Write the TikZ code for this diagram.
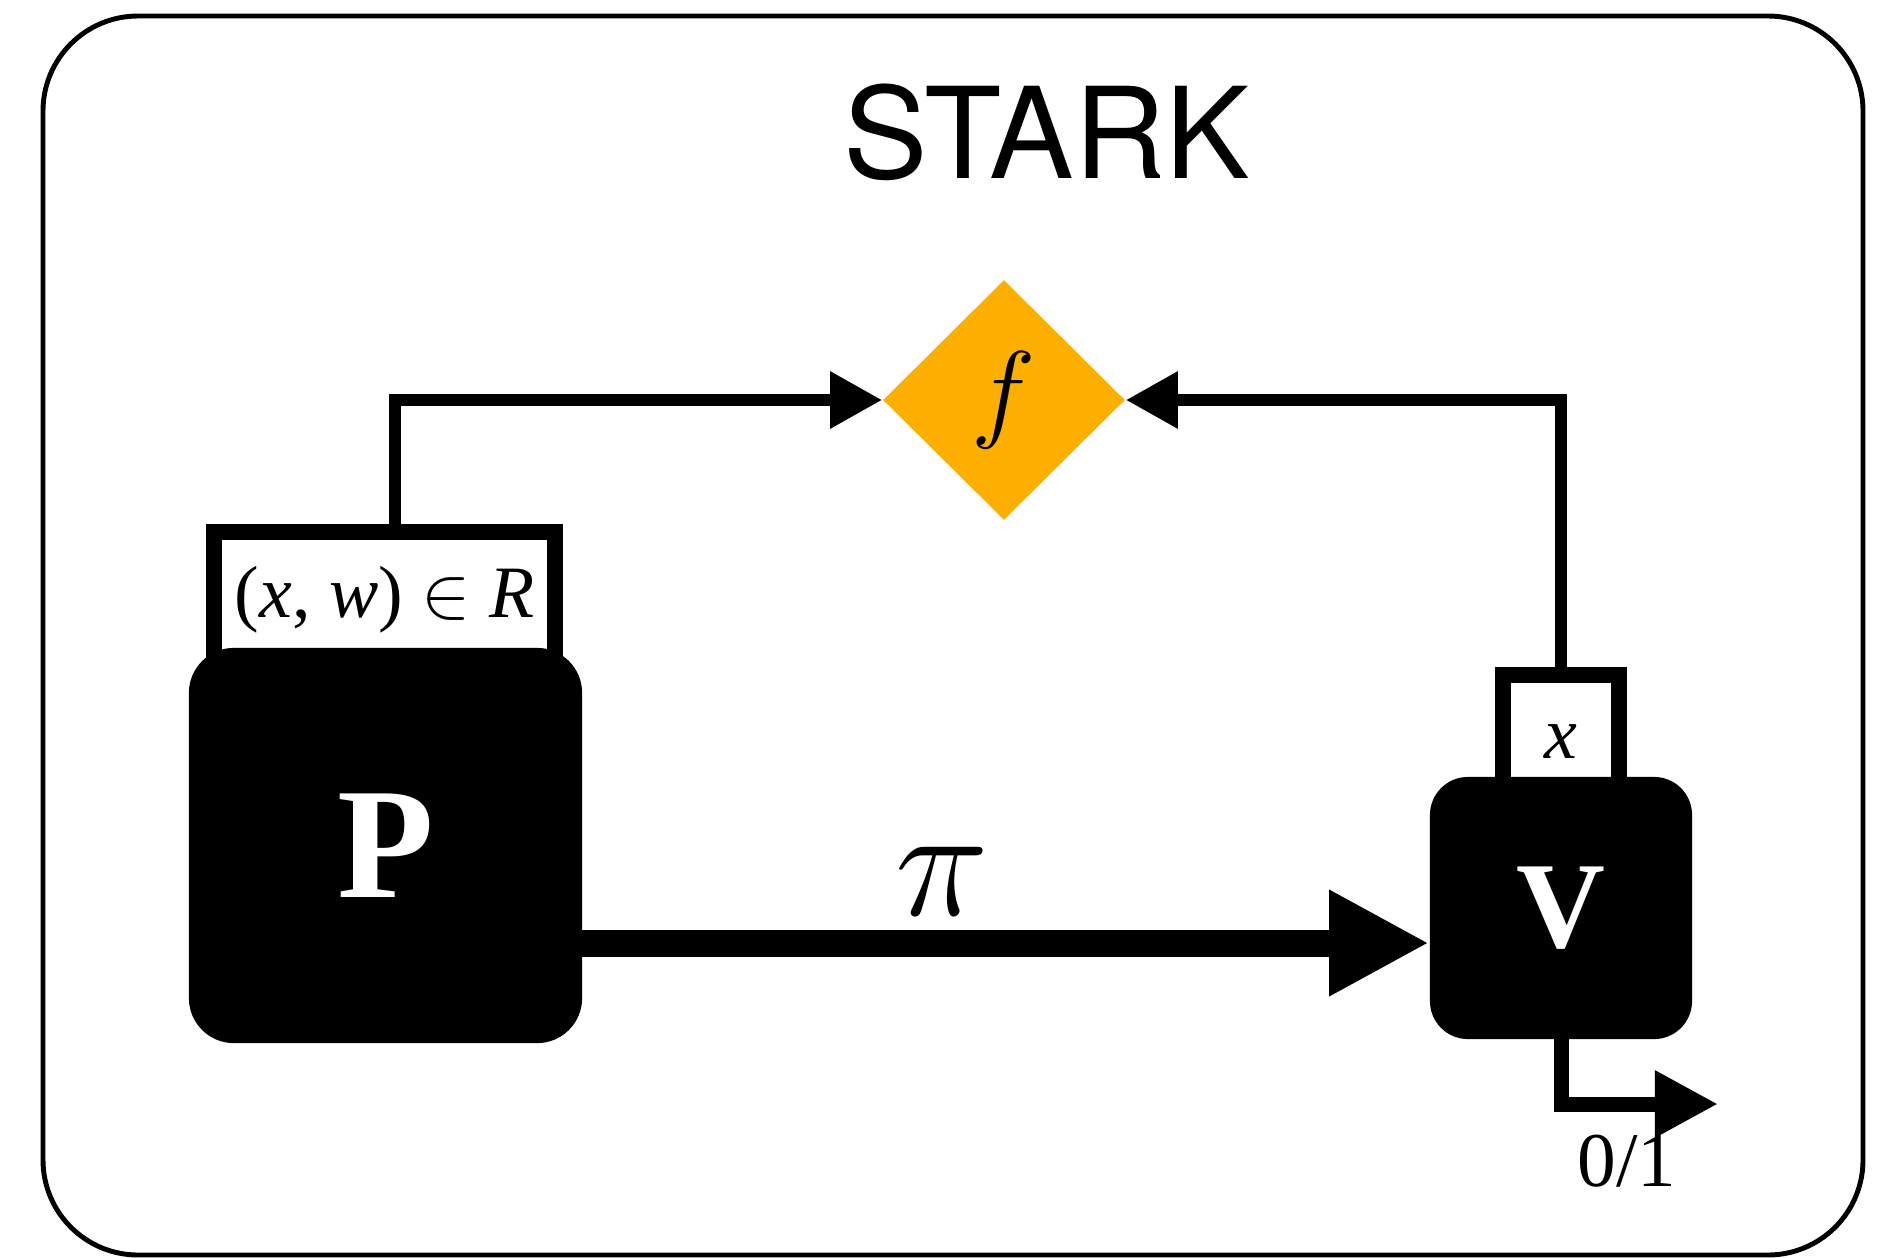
\RequirePackage{fix-cm}
\documentclass[tikz,border=0pt]{standalone}
\usepackage{fontspec}
\setmainfont{Liberation Serif}
\newfontfamily\starkfont{TeX Gyre Heros}
\usetikzlibrary{arrows.meta,shapes.geometric}
\definecolor{forange}{RGB}{253,175,0}

\begin{document}
\begin{tikzpicture}[x=0.01cm,y=-0.01cm,
    block/.style={fill=black,text=white,rounded corners=#1,inner sep=0pt},
    inbox/.style={draw,line width=0.16cm,fill=white,inner sep=0pt,font=\fontsize{21}{24}\selectfont},
    wire/.style={line width=0.12cm,-{Triangle[length=0.52cm,width=0.54cm]}}]
            \useasboundingbox (0,0) rectangle (1885,1257);

            \draw[line width=1.4pt,rounded corners=0.95cm] (43,16) rectangle (1863,1255);
            \node[font=\starkfont\fontsize{36}{40}\selectfont] (title) at (1047,132) {STARK};

            \node[diamond,fill=forange,minimum width=2.42cm,minimum height=2.4cm,inner sep=0pt,font=\fontsize{31}{32}\selectfont] (f) at (1004,400) {\raisebox{-0.18cm}{$f$}};

            % inputs of P and V
            \node[inbox,minimum width=3.41cm,text height=0.85cm,text depth=0.83cm] (xw) at (384.5,616) {(\textit{x}, \textit{w}) $\in$ \textit{R}};
            \node[inbox,minimum width=1.16cm,text height=0.83cm,text depth=0.42cm] (xb) at (1561,737.5) {\textit{x}};

            \node[block=0.45cm,minimum width=3.93cm,minimum height=3.95cm,font=\bfseries\fontsize{45}{48}\selectfont] (P) at (385.5,845.5) {P};
            \node[block=0.38cm,minimum width=2.62cm,minimum height=2.62cm,font=\bfseries\fontsize{35}{38}\selectfont] (V) at (1561,908) {V};

            \draw[wire] ([xshift=0.1cm]xw.north) |- (f.west);
            \draw[wire] (xb.north) |- (f.east);

            % proof
            \coordinate (pout) at (582,943);
            \draw[line width=0.27cm,-{Triangle[length=1cm,width=0.99cm]}] (pout) -- (pout -| V.west)
                node[pos=0.425,above=0.14cm,inner sep=0pt,font=\fontsize{45}{48}\selectfont] (pi) {$\pi$};

            % verdict
            \coordinate (out) at (1718,1104);
            \draw[line width=0.15cm,-{Triangle[length=0.63cm,width=0.63cm]}] ([yshift=0.1cm]V.south) |- (out);
            \node[font=\fontsize{22}{24}\selectfont] (res) at (1627,1161) {0/1};
        \end{tikzpicture}
\end{document}
